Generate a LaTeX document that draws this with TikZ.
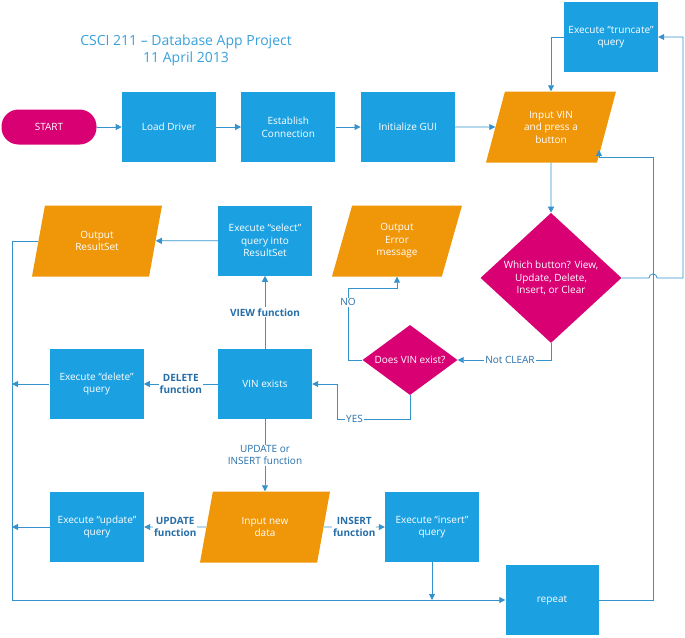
\documentclass[tikz,border=0pt]{standalone}
\usepackage{fontspec}
\setmainfont{Open Sans}
\usepackage{tikz}
\usetikzlibrary{shapes.geometric, arrows.meta, positioning}
\definecolor{metroblue}{RGB}{27,161,226}
\definecolor{metroorange}{RGB}{240,150,9}
\definecolor{metromagenta}{RGB}{216,0,115}
\definecolor{linkblue}{RGB}{52,146,204}
\definecolor{lblblue}{RGB}{38,110,168}
\definecolor{titleblue}{RGB}{56,160,220}
\tikzstyle{startstop} = [rectangle, rounded corners=17pt, minimum width=95pt, minimum height=35pt, align=center, fill=metromagenta, text=white]
\tikzstyle{process} = [rectangle, minimum width=94pt, minimum height=70pt, align=center, fill=metroblue, text=white]
\tikzstyle{io} = [trapezium, trapezium left angle=64, trapezium right angle=116, trapezium stretches body, minimum width=130pt, minimum height=71pt, align=center, fill=metroorange, text=white]
\tikzstyle{decision} = [diamond, inner sep=0pt, align=center, fill=metromagenta, text=white]
\tikzstyle{arrow} = [line width=0.8pt, -{Triangle[length=6pt,width=6pt]}, color=linkblue]
\tikzstyle{lbl} = [fill=white, inner sep=1pt, align=center, text=lblblue, font=\fontsize{10}{12}\selectfont]
\tikzstyle{blbl} = [lbl, font=\fontsize{10}{12}\selectfont\bfseries]

\begin{document}
\begin{tikzpicture}[x=1pt, y=-1pt, font=\fontsize{10}{12.5}\selectfont]
    \useasboundingbox (0,0) rectangle (685,637);
    \node [text=titleblue, align=center, font=\fontsize{14}{17}\selectfont] (title) at (186,50) {CSCI 211 – Database App Project\\11 April 2013};
    \node [startstop] (start) at (49,127) {START};
    \node [process, right=25pt of start] (driver) {Load Driver};
    \node [process, right=25pt of driver] (connect) {Establish\\Connection};
    \node [process, right=25pt of connect] (gui) {Initialize GUI};
    \node [io] (vin) at (551,127) {Input VIN\\and press a\\button};
    \node [process] (truncate) at (611,37) {Execute “truncate”\\query};
    \node [decision, below=50pt of vin, minimum width=141pt, minimum height=130pt] (which) {Which button? View,\\Update, Delete,\\Insert, or Clear};
    \node [decision, aspect=1.4, minimum width=95pt, minimum height=70pt] (doesvin) at (410,360) {Does VIN exist?};
    \node [io] (error) at (397,241) {Output\\Error\\message};
    \node [process] (exists) at (265,384) {VIN exists};
    \node [process, above=73pt of exists] (select) {Execute “select”\\query into\\ResultSet};
    \node [io] (result) at (97,241) {Output\\ResultSet};
    \node [process, left=74pt of exists] (delete) {Execute “delete”\\query};
    \node [io] (newdata) at (265,527) {Input new\\data};
    \node [process] (update) at (97,527) {Execute “update”\\query};
    \node [process] (insert) at (432,527) {Execute “insert”\\query};
    \node [process, minimum width=93pt] (repeat) at (552,600) {repeat};
    % bends of the connectors
    \coordinate (rail) at (12,600);
    \coordinate (hop) at (649,0);
    \coordinate (edge) at (683,0);
    \coordinate (loop) at (653,157);
    \coordinate (back) at (599,150);
    \coordinate (nobend) at (348,288);
    \coordinate (yesbend) at (337,419);
    \draw [arrow] (start) -- (driver);
    \draw [arrow] (driver) -- (connect);
    \draw [arrow] (connect) -- (gui);
    \draw [arrow] (gui) -- (vin);
    \draw [arrow] (truncate.west) -| (vin.north);
    \draw [arrow] (vin) -- (which);
    \draw [arrow] (which.east) -- (which.east -| hop) arc[start angle=180, end angle=0, radius=4pt] -- (which.east -| edge) |- (truncate.east);
    \draw [arrow] (which.south) |- node[lbl, pos=0.72] {Not CLEAR} (doesvin.east);
    \draw [arrow] (doesvin.west) -| node[lbl, pos=0.9] {NO} (nobend) -| (error.south);
    \draw [arrow] (doesvin.south) |- node[lbl, pos=0.88] {YES} (yesbend) |- (exists.east);
    \draw [arrow] (exists) -- node[blbl] {VIEW function} (select);
    \draw [arrow] (exists) -- node[blbl] {DELETE\\function} (delete);
    \draw [arrow] (exists) -- node[lbl] {UPDATE or\\INSERT function} (newdata);
    \draw [arrow] (newdata) -- node[blbl] {UPDATE\\function} (update);
    \draw [arrow] (newdata) -- node[blbl] {INSERT\\function} (insert);
    \draw [arrow] (select) -- (result);
    \draw [arrow] (result.west) -| (rail) -- (repeat.west);
    \draw [arrow] (delete.west) -- (delete.west -| rail);
    \draw [arrow] (update.west) -- (update.west -| rail);
    \draw [arrow] (insert.south) -- (insert.south |- repeat.west);
    \draw [arrow] (repeat.east) -| (loop) -| (back);
\end{tikzpicture}
\end{document}
